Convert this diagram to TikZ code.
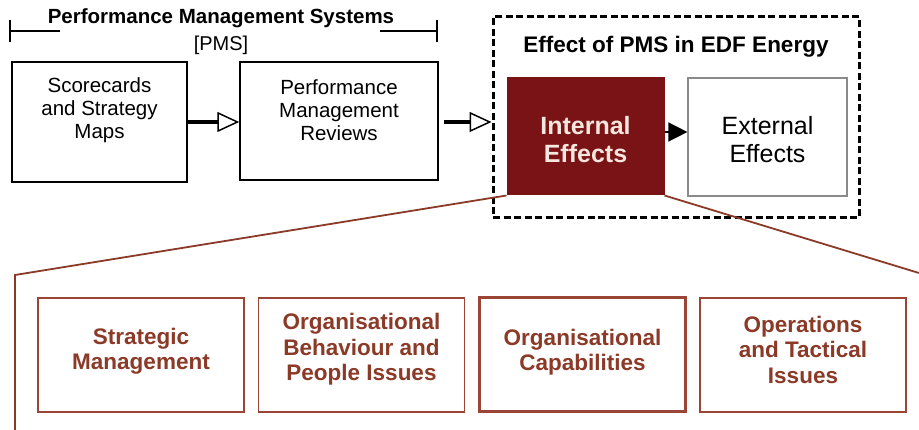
\documentclass[tikz,border=0pt]{standalone}
\usepackage{fontspec}
\setmainfont{Liberation Sans}
\usetikzlibrary{arrows.meta}
\definecolor{effred}{HTML}{7A1315}
\definecolor{efftext}{HTML}{F5E6DE}
\definecolor{subred}{HTML}{8C3A28}
\definecolor{subborder}{HTML}{9A4535}
\definecolor{extgray}{HTML}{8A8A8A}
\tikzset{
  topbox/.style={draw=black, line width=1.5pt, fill=white},
  toptext/.style={align=center, inner sep=0pt, font=\fontsize{20.5}{23}\selectfont},
  subbox/.style={draw=subborder, line width=1.8pt, fill=white,
    minimum width=206pt, minimum height=114pt},
  subtext/.style={align=center, inner sep=0pt, text=subred,
    font=\bfseries\fontsize{22.5}{25.5}\selectfont},
  openarrow/.style={line width=3.5pt, -{Triangle[open, length=22pt, width=20pt, line width=1.5pt]}},
  fillarrow/.style={line width=1.5pt, -{Triangle[length=19pt, width=19pt]}},
  linkline/.style={draw=subred, line width=1.8pt},
}
\begin{document}
\begin{tikzpicture}[x=1pt,y=-1pt]
\useasboundingbox (0,0) rectangle (919,430);
\fill[white] (0,0) rectangle (919,430);

% bracket
\draw[line width=1.2pt] (10,20) -- (10,42);
\draw[line width=1.2pt] (437,20) -- (437,42);
\draw[line width=1.2pt] (10,31) -- (60,31);
\draw[line width=1.2pt] (380,31) -- (437,31);
\node[font=\bfseries\fontsize{20.5}{22}\selectfont] (pmstitle) at (221,18) {Performance Management Systems};
\node[font=\fontsize{20}{22}\selectfont] (pmsab) at (221,45.5) {[PMS]};

% top boxes
\node[topbox, minimum width=175pt, minimum height=120pt] (sc) at (99.5,122) {};
\node[toptext] (sct) at (99.5,110) {Scorecards\\and Strategy\\Maps};
\node[topbox, minimum width=198pt, minimum height=118pt] (pmr) at (339,121) {};
\node[toptext] (pmrt) at (339,110) {Performance\\Management\\Reviews};

% dashed frame
\node[draw=black, line width=3pt, dash pattern=on 7pt off 3.5pt,
  minimum width=366pt, minimum height=201pt] (frame) at (676,117.5) {};
\node[font=\bfseries\fontsize{22.5}{24}\selectfont] (ftitle) at (676,47) {Effect of PMS in EDF Energy};

\node[fill=effred, draw=effred, line width=1pt, minimum width=157pt, minimum height=117pt] (ie) at (585.5,136.5) {};
\node[align=center, inner sep=0pt, text=efftext, font=\bfseries\fontsize{25}{28}\selectfont] (iet) at (585.5,139.5) {Internal\\Effects};
\node[draw=extgray, line width=1.2pt, fill=white, minimum width=159pt, minimum height=118pt] (ee) at (767.5,137) {};
\node[align=center, inner sep=0pt, font=\fontsize{25}{28}\selectfont] (eet) at (767.5,139.5) {External\\Effects};

% arrows
\draw[openarrow] (sc.east |- 0,122) -- (pmr.west |- 0,122);
\draw[openarrow, shorten <=5pt] (pmr.east |- 0,122) -- (frame.west |- 0,122);
\draw[fillarrow] ([yshift=4.5pt]ie.east) -- ([yshift=5pt]ee.west);

% link lines
\coordinate (lc) at (15,275);
\coordinate (lb) at (15,430);
\coordinate (rc) at (919,273);
\draw[linkline] (ie.south west) -- (lc) -- (lb);
\draw[linkline] (ie.south east) -- (rc);

% sub boxes
\node[subbox] (s1) at (141,355) {};
\node[subtext] (s1t) at (141,351) {Strategic\\Management};
\node[subbox] (s2) at (361.5,355) {};
\node[subtext] (s2t) at (361.5,349.5) {Organisational\\Behaviour and\\People Issues};
\node[subbox, line width=2.4pt] (s3) at (582.5,354.5) {};
\node[subtext] (s3t) at (582.5,352) {Organisational\\Capabilities};
\node[subbox] (s4) at (803,355) {};
\node[subtext] (s4t) at (803,349.5) {Operations\\and Tactical\\Issues};
\end{tikzpicture}
\end{document}
